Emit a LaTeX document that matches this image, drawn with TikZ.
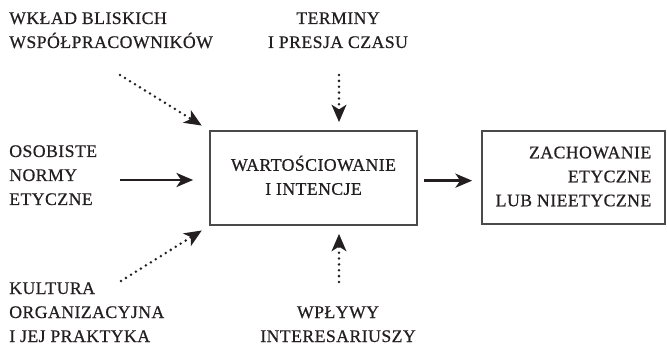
\documentclass[tikz,border=0pt]{standalone}
\usepackage{fontspec}
\setmainfont{Liberation Serif}[LetterSpace=2.5,FakeBold=0.6]
\usetikzlibrary{arrows.meta}
\definecolor{ink}{HTML}{231F20}
\definecolor{frame}{HTML}{4A4A4A}
\newcommand\lbl[2]{\begin{tabular}[t]{@{}#1@{}}#2\end{tabular}}
\begin{document}
\begin{tikzpicture}[x=0.75pt,y=-0.75pt,
  every node/.style={font=\fontsize{13.3}{18}\selectfont, text=ink},
  label/.style={inner sep=0pt},
  box/.style={draw=frame, line width=1.3pt, inner sep=0pt},
  solidarrow/.style={draw=ink, line width=2pt, -{Stealth[length=12.5pt,width=10.5pt,inset=3.5pt]}},
  dotarrow/.style={draw=ink, line width=2.1pt, line cap=round, dash pattern=on 0pt off 4.4pt,
     -{Stealth[length=13pt,width=11pt,inset=3.5pt,sep=0pt]}}]
\useasboundingbox (0,0) rectangle (667,345);

\node[box, minimum width=155.25pt, minimum height=70.5pt] (mid) at (313.5,178)
  {\lbl{c}{WARTOŚCIOWANIE\\I INTENCJE}};
\node[box, minimum width=137.25pt, minimum height=69.75pt] (res) at (573.5,177.5)
  {\lbl{r}{ZACHOWANIE\\ETYCZNE\\LUB NIEETYCZNE}};

\node[label, anchor=base west] (wklad) at (9,24) {\lbl{l}{WKŁAD BLISKICH\\WSPÓŁPRACOWNIKÓW}};
\node[label, anchor=base] (term) at (338,24) {\lbl{c}{TERMINY\\I PRESJA CZASU}};
\node[label, anchor=base west] (norm) at (9,157) {\lbl{l}{OSOBISTE\\NORMY\\ETYCZNE}};
\node[label, anchor=base west] (kult) at (9,294) {\lbl{l}{KULTURA\\ORGANIZACYJNA\\I JEJ PRAKTYKA}};
\node[label, anchor=base] (wpl) at (338,318) {\lbl{c}{WPŁYWY\\INTERESARIUSZY}};

\coordinate (tlA) at (120,75);
\coordinate (blA) at (121,281);
\coordinate (lA) at (120,180);
\coordinate (tA) at (339,75);
\coordinate (bA) at (339,282);

\draw[dotarrow, shorten >=6.5pt] (tlA) -- (mid.north west);
\draw[dotarrow, shorten >=6.5pt] (blA) -- (mid.south west);
\draw[dotarrow, shorten >=6pt] (tA) -- (tA |- mid.north);
\draw[dotarrow, shorten >=6pt] (bA) -- (bA |- mid.south);
\draw[solidarrow, shorten >=12pt] (lA) -- (lA -| mid.west);
\draw[solidarrow, shorten <=4.5pt, shorten >=6.75pt] ([yshift=-2pt]mid.east) -- ([yshift=-2pt]mid.east -| res.west);
\end{tikzpicture}
\end{document}
